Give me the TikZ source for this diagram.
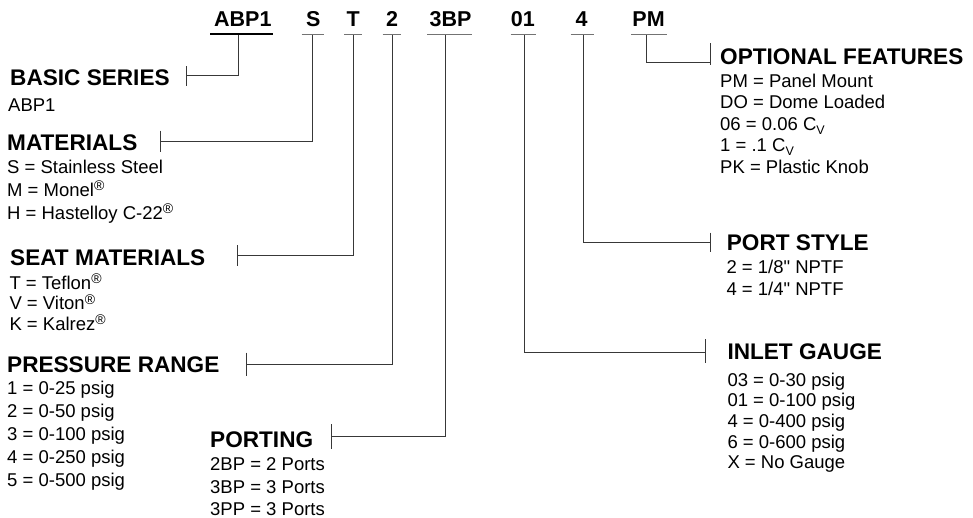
\documentclass[tikz,border=0pt]{standalone}
\usepackage{fontspec}
\setmainfont{Liberation Sans}[Ligatures=TeXOff]
\newcommand{\regmk}{\raisebox{0.55ex}{\fontsize{14}{14}\selectfont ®}}
\newcommand{\cvsub}{C\raisebox{-4pt}{\fontsize{12.5}{12.5}\selectfont V}}
\begin{document}
\begin{tikzpicture}[x=1pt,y=-1pt,
  code/.style={font=\fontsize{21.5}{21.5}\selectfont\bfseries, inner sep=0pt, anchor=base},
  head/.style={font=\fontsize{22.6}{22.6}\selectfont\bfseries, inner sep=0pt, anchor=base west},
  body/.style={font=\fontsize{18.5}{18.5}\selectfont, inner sep=0pt, anchor=base west},
  conn/.style={draw=black!78, line width=1pt},
  uline/.style={draw=black!55, line width=1.4pt},
  ulinemain/.style={draw=black, line width=2pt}]
\useasboundingbox (0,0) rectangle (973,517);

% ---- code letters ----
\node[code] (cABP) at (242.8,26.7) {ABP1};
\node[code] (cS)   at (313.2,26.7) {S};
\node[code] (cT)   at (353.3,26.7) {T};
\node[code] (c2)   at (392.0,26.7) {2};
\node[code] (c3BP) at (450.6,26.7) {3BP};
\node[code] (c01)  at (522.8,26.7) {01};
\node[code] (c4)   at (581.5,26.7) {4};
\node[code] (cPM)  at (648.6,26.7) {PM};

% ---- underlines ----
\draw[ulinemain] (210,34.3) -- (272.7,34.3);
\draw[uline] (301.7,34.3) -- (324,34.3);
\draw[uline] (344.3,34.3) -- (362.3,34.3);
\draw[uline] (382.7,34.3) -- (401,34.3);
\draw[uline] (427.3,34.3) -- (471.7,34.3);
\draw[uline] (510.7,34.3) -- (536,34.3);
\draw[uline] (570.7,34.3) -- (593.7,34.3);
\draw[uline] (631,34.3) -- (667.3,34.3);

% ---- connector start points (under the codes) ----
\coordinate (jABP) at (238.3,35.3);
\coordinate (jS)   at (312.7,35);
\coordinate (jT)   at (353.3,35);
\coordinate (j2)   at (392.3,35);
\coordinate (j3BP) at (445.7,35);
\coordinate (j01)  at (524.3,35);
\coordinate (j4)   at (583.0,35);
\coordinate (jPM)  at (646.7,35);

% ---- connector end points (ticks) ----
\coordinate (kABP) at (186.7,75);
\coordinate (kS)   at (160,141);
\coordinate (kT)   at (237.7,255);
\coordinate (k2)   at (246.7,364.3);
\coordinate (k3BP) at (331.7,436.7);
\coordinate (k01)  at (705,352.3);
\coordinate (k4)   at (710.7,242.3);
\coordinate (kPM)  at (710,62.3);

\draw[conn] (jABP) |- (kABP);
\draw[conn] (jS) |- (kS);
\draw[conn] (jT) |- (kT);
\draw[conn] (j2) |- (k2);
\draw[conn] (j3BP) |- (k3BP);
\draw[conn] (j01) |- (k01);
\draw[conn] (j4) |- (k4);
\draw[conn] (jPM) |- (kPM);

\draw[conn] ([yshift=9]kABP) -- ([yshift=-11]kABP);
\draw[conn] ([yshift=10.3]kS) -- ([yshift=-11.3]kS);
\draw[conn] ([yshift=10]kT) -- ([yshift=-11]kT);
\draw[conn] ([yshift=11.6]k2) -- ([yshift=-11.7]k2);
\draw[conn] ([yshift=12.4]k3BP) -- ([yshift=-12.6]k3BP);
\draw[conn] ([yshift=13]k01) -- ([yshift=-10.4]k01);
\draw[conn] ([yshift=9.6]k4) -- ([yshift=-9.4]k4);
\draw[conn] ([yshift=19]kPM) -- ([yshift=-2.7]kPM);

% ---- BASIC SERIES ----
\node[head] (hBasic) at (10,85) {BASIC SERIES};
\node[body] (bBasic1) at (8,111) {ABP1};

% ---- MATERIALS ----
\node[head] (hMat) at (7,150.7) {MATERIALS};
\node[body] (bMat1) at (7,173) {S = Stainless Steel};
\node[body] (bMat2) at (7,196) {M = Monel\regmk};
\node[body] (bMat3) at (7,219) {H = Hastelloy C-22\regmk};

% ---- SEAT MATERIALS ----
\node[head] (hSeat) at (10,265.7) {SEAT MATERIALS};
\node[body] (bSeat1) at (9.3,289) {T = Teflon\regmk};
\node[body] (bSeat2) at (9.3,309.5) {V = Viton\regmk};
\node[body] (bSeat3) at (9.3,330) {K = Kalrez\regmk};

% ---- PRESSURE RANGE ----
\node[head] (hPress) at (7,372.3) {PRESSURE RANGE};
\node[body] (bPress1) at (7,394) {1 = 0-25 psig};
\node[body] (bPress2) at (7,417) {2 = 0-50 psig};
\node[body] (bPress3) at (7,440) {3 = 0-100 psig};
\node[body] (bPress4) at (7,463) {4 = 0-250 psig};
\node[body] (bPress5) at (7,486) {5 = 0-500 psig};

% ---- PORTING ----
\node[head] (hPort) at (210,447.3) {PORTING};
\node[body] (bPort1) at (210,470.7) {2BP = 2 Ports};
\node[body] (bPort2) at (210,493.3) {3BP = 3 Ports};
\node[body] (bPort3) at (210,515) {3PP = 3 Ports};

% ---- OPTIONAL FEATURES ----
\node[head] (hOpt) at (720,64) {OPTIONAL FEATURES};
\node[body] (bOpt1) at (720,87) {PM = Panel Mount};
\node[body] (bOpt2) at (720,108.5) {DO = Dome Loaded};
\node[body] (bOpt3) at (720,130) {06 = 0.06 \cvsub};
\node[body] (bOpt4) at (720,151.5) {1 = .1 \cvsub};
\node[body] (bOpt5) at (720,173) {PK = Plastic Knob};

% ---- PORT STYLE ----
\node[head] (hPStyle) at (726.7,250) {PORT STYLE};
\node[body] (bPStyle1) at (726.3,273.3) {2 = 1/8" NPTF};
\node[body] (bPStyle2) at (726.3,295) {4 = 1/4" NPTF};

% ---- INLET GAUGE ----
\node[head] (hInlet) at (727.3,359.3) {INLET GAUGE};
\node[body] (bInlet1) at (727.3,386) {03 = 0-30 psig};
\node[body] (bInlet2) at (727.3,406.7) {01 = 0-100 psig};
\node[body] (bInlet3) at (727.3,427.3) {4 = 0-400 psig};
\node[body] (bInlet4) at (727.3,448) {6 = 0-600 psig};
\node[body] (bInlet5) at (727.3,468.5) {X = No Gauge};
\end{tikzpicture}
\end{document}
